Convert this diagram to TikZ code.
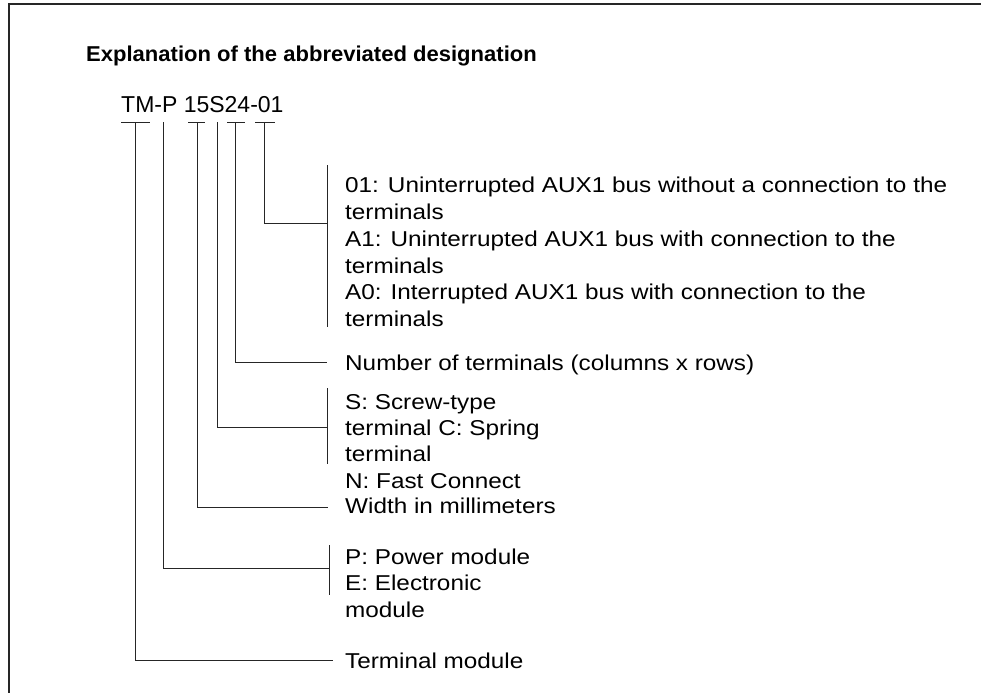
\documentclass[tikz,border=0pt]{standalone}
\usepackage{fontspec}
\setmainfont{Liberation Sans}
\newfontfamily\bodyfont[FakeStretch=1.13]{Liberation Sans}
\newfontfamily\titlefont[FakeStretch=1.025]{Liberation Sans}
\begin{document}
\begin{tikzpicture}[x=1pt,y=-1pt,
  lbl/.style={anchor=base west,inner sep=0pt,align=left,font=\bodyfont\fontsize{21.5}{26.2}\selectfont},
  ln/.style={line width=0.9pt,draw=black!85},
  frm/.style={line width=1.4pt,draw=black!85}]
\useasboundingbox (0,0) rectangle (981,693);
% frame (top and left edges)
\coordinate (fa) at (9,4);
\coordinate (fb) at (981,4);
\coordinate (fc) at (9,693);
\draw[frm] (fb) -- (fa) -- (fc);
% title and code
\node[anchor=base west,inner sep=0pt,font=\titlefont\fontsize{21.5}{26}\selectfont\bfseries] (title) at (86,61) {Explanation of the abbreviated designation};
\node[anchor=base west,inner sep=0pt,font=\fontsize{23}{28}\selectfont] (code) at (121,112) {TM-P 15S24-01};
% labels (base anchor = baseline of the last line)
\node[lbl] (e01) at (345,219) {01: Uninterrupted AUX1 bus without a connection to the\\terminals};
\node[lbl] (eA1) at (345,273) {A1: Uninterrupted AUX1 bus with connection to the\\terminals};
\node[lbl] (eA0) at (345,326) {A0: Interrupted AUX1 bus with connection to the\\terminals};
\node[lbl] (num) at (345,370) {Number of terminals (columns x rows)};
\node[lbl] (scr) at (345,488) {S: Screw-type\\terminal C: Spring\\terminal\\N: Fast Connect};
\node[lbl] (wid) at (345,513) {Width in millimeters};
\node[lbl] (pow) at (345,617) {P: Power module\\E: Electronic\\module};
\node[lbl] (tmod) at (345,668) {Terminal module};
% tick tops
\coordinate (t1) at (135,122);
\coordinate (t2) at (163,122);
\coordinate (t3) at (197,122);
\coordinate (t4) at (217,122);
\coordinate (t5) at (235,122);
\coordinate (t6) at (264,122);
\draw[ln] (121,122) -- (150,122);
\draw[ln] (188,122) -- (205,122);
\draw[ln] (227,122) -- (245,122);
\draw[ln] (255,122) -- (275,122);
% brackets
\coordinate (b6a) at (327,165); \coordinate (b6b) at (327,327); \coordinate (b6) at (327,223);
\coordinate (b5) at (327,362);
\coordinate (b4a) at (327,388); \coordinate (b4b) at (327,464); \coordinate (b4) at (327,427);
\coordinate (b3) at (328,507);
\coordinate (b2a) at (329,545); \coordinate (b2b) at (329,595); \coordinate (b2) at (329,568);
\coordinate (b1) at (333,660);
\draw[ln] (b6a) -- (b6b);
\draw[ln] (b4a) -- (b4b);
\draw[ln] (b2a) -- (b2b);
% connectors
\draw[ln] (t6) |- (b6);
\draw[ln] (t5) |- (b5);
\draw[ln] (t4) |- (b4);
\draw[ln] (t3) |- (b3);
\draw[ln] (t2) |- (b2);
\draw[ln] (t1) |- (b1);
\end{tikzpicture}
\end{document}
